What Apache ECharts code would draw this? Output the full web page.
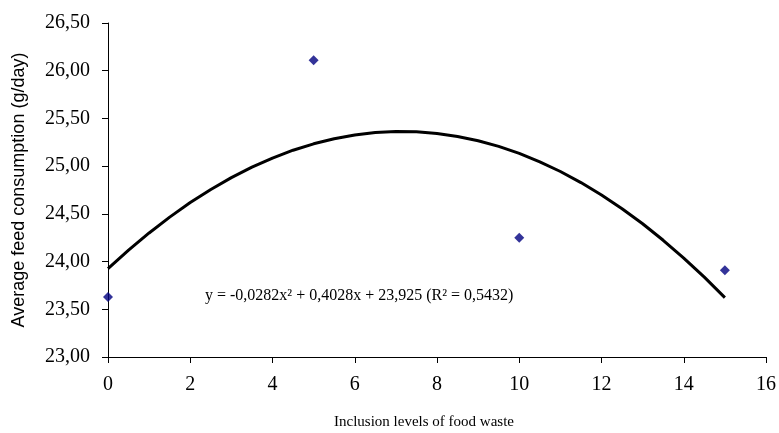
<!DOCTYPE html>
<html>
<head>
<meta charset="UTF-8">
<title>Average feed consumption</title>
<script src="https://cdn.jsdelivr.net/npm/echarts@6/dist/echarts.min.js"></script>
<style type="text/css">
body{margin:0;padding:0;background:#fff;}
#main{width:779px;height:433px;}
</style>
</head>
<body>
<div id="main"></div>
<script type="text/javascript">
// measured points
var levels = [0, 5, 10, 15];
var consumption = [23.63, 26.11, 24.25, 23.91];
// trend curve, every half step
var curveX = [0, 0.5, 1, 1.5, 2, 2.5, 3, 3.5, 4, 4.5, 5, 5.5, 6, 6.5, 7, 7.5,
              8, 8.5, 9, 9.5, 10, 10.5, 11, 11.5, 12, 12.5, 13, 13.5, 14, 14.5, 15];
var curveY = [23.925, 24.119, 24.30, 24.466, 24.618, 24.756, 24.88, 24.989, 25.085, 25.167, 25.234, 25.287, 25.327, 25.352, 25.363, 25.36,
              25.343, 25.311, 25.266, 25.207, 25.133, 25.045, 24.944, 24.828, 24.698, 24.554, 24.396, 24.223, 24.037, 23.837, 23.622];
var equationText = 'y = -0,0282x² + 0,4028x + 23,925 (R² = 0,5432)';
var xTitle = 'Inclusion levels of food waste';

var myChart = echarts.init(document.getElementById('main'));
var serif = '"Liberation Serif", "Times New Roman", serif';

myChart.setOption({
    animation: false,
    grid: {left: 108, right: 13, top: 23, bottom: 76},
    xAxis: {
        type: 'value',
        min: 0, max: 16, interval: 2,
        axisLine: {lineStyle: {color: '#000', width: 1}},
        axisTick: {show: true, length: 6, lineStyle: {color: '#000'}},
        axisLabel: {fontFamily: serif, fontSize: 20, color: '#000', margin: 18},
        splitLine: {show: false}
    },
    yAxis: {
        type: 'value',
        min: 23, max: 26.5, interval: 0.5,
        name: 'Average feed consumption (g/day)',
        nameLocation: 'middle',
        nameGap: 80,
        nameTextStyle: {fontFamily: '"Liberation Sans", Arial, sans-serif', fontSize: 18, color: '#000'},
        axisLine: {show: true, lineStyle: {color: '#000', width: 1}},
        axisTick: {show: true, length: 6, lineStyle: {color: '#000'}},
        axisLabel: {
            fontFamily: serif, fontSize: 20, color: '#000', margin: 18,
            formatter: function (v) { return v.toFixed(2).replace('.', ','); }
        },
        splitLine: {show: false}
    },
    graphic: [{
        type: 'text',
        left: 205,
        top: 288,
        style: {text: equationText, font: '16px ' + serif, fill: '#000'}
    }, {
        type: 'text',
        left: 334,
        top: 415,
        style: {text: xTitle, font: '15px ' + serif, fill: '#000'}
    }],
    series: [{
        type: 'line',
        data: curveX.map(function (x, i) { return [x, curveY[i]]; }),
        smooth: false,
        symbol: 'none',
        lineStyle: {color: '#000', width: 3, join: 'round'},
        z: 2
    }, {
        type: 'scatter',
        data: levels.map(function (x, i) { return [x, consumption[i]]; }),
        symbol: 'diamond',
        symbolSize: [10, 10],
        itemStyle: {color: '#000080'},
        z: 3
    }]
});
</script>
</body>
</html>
